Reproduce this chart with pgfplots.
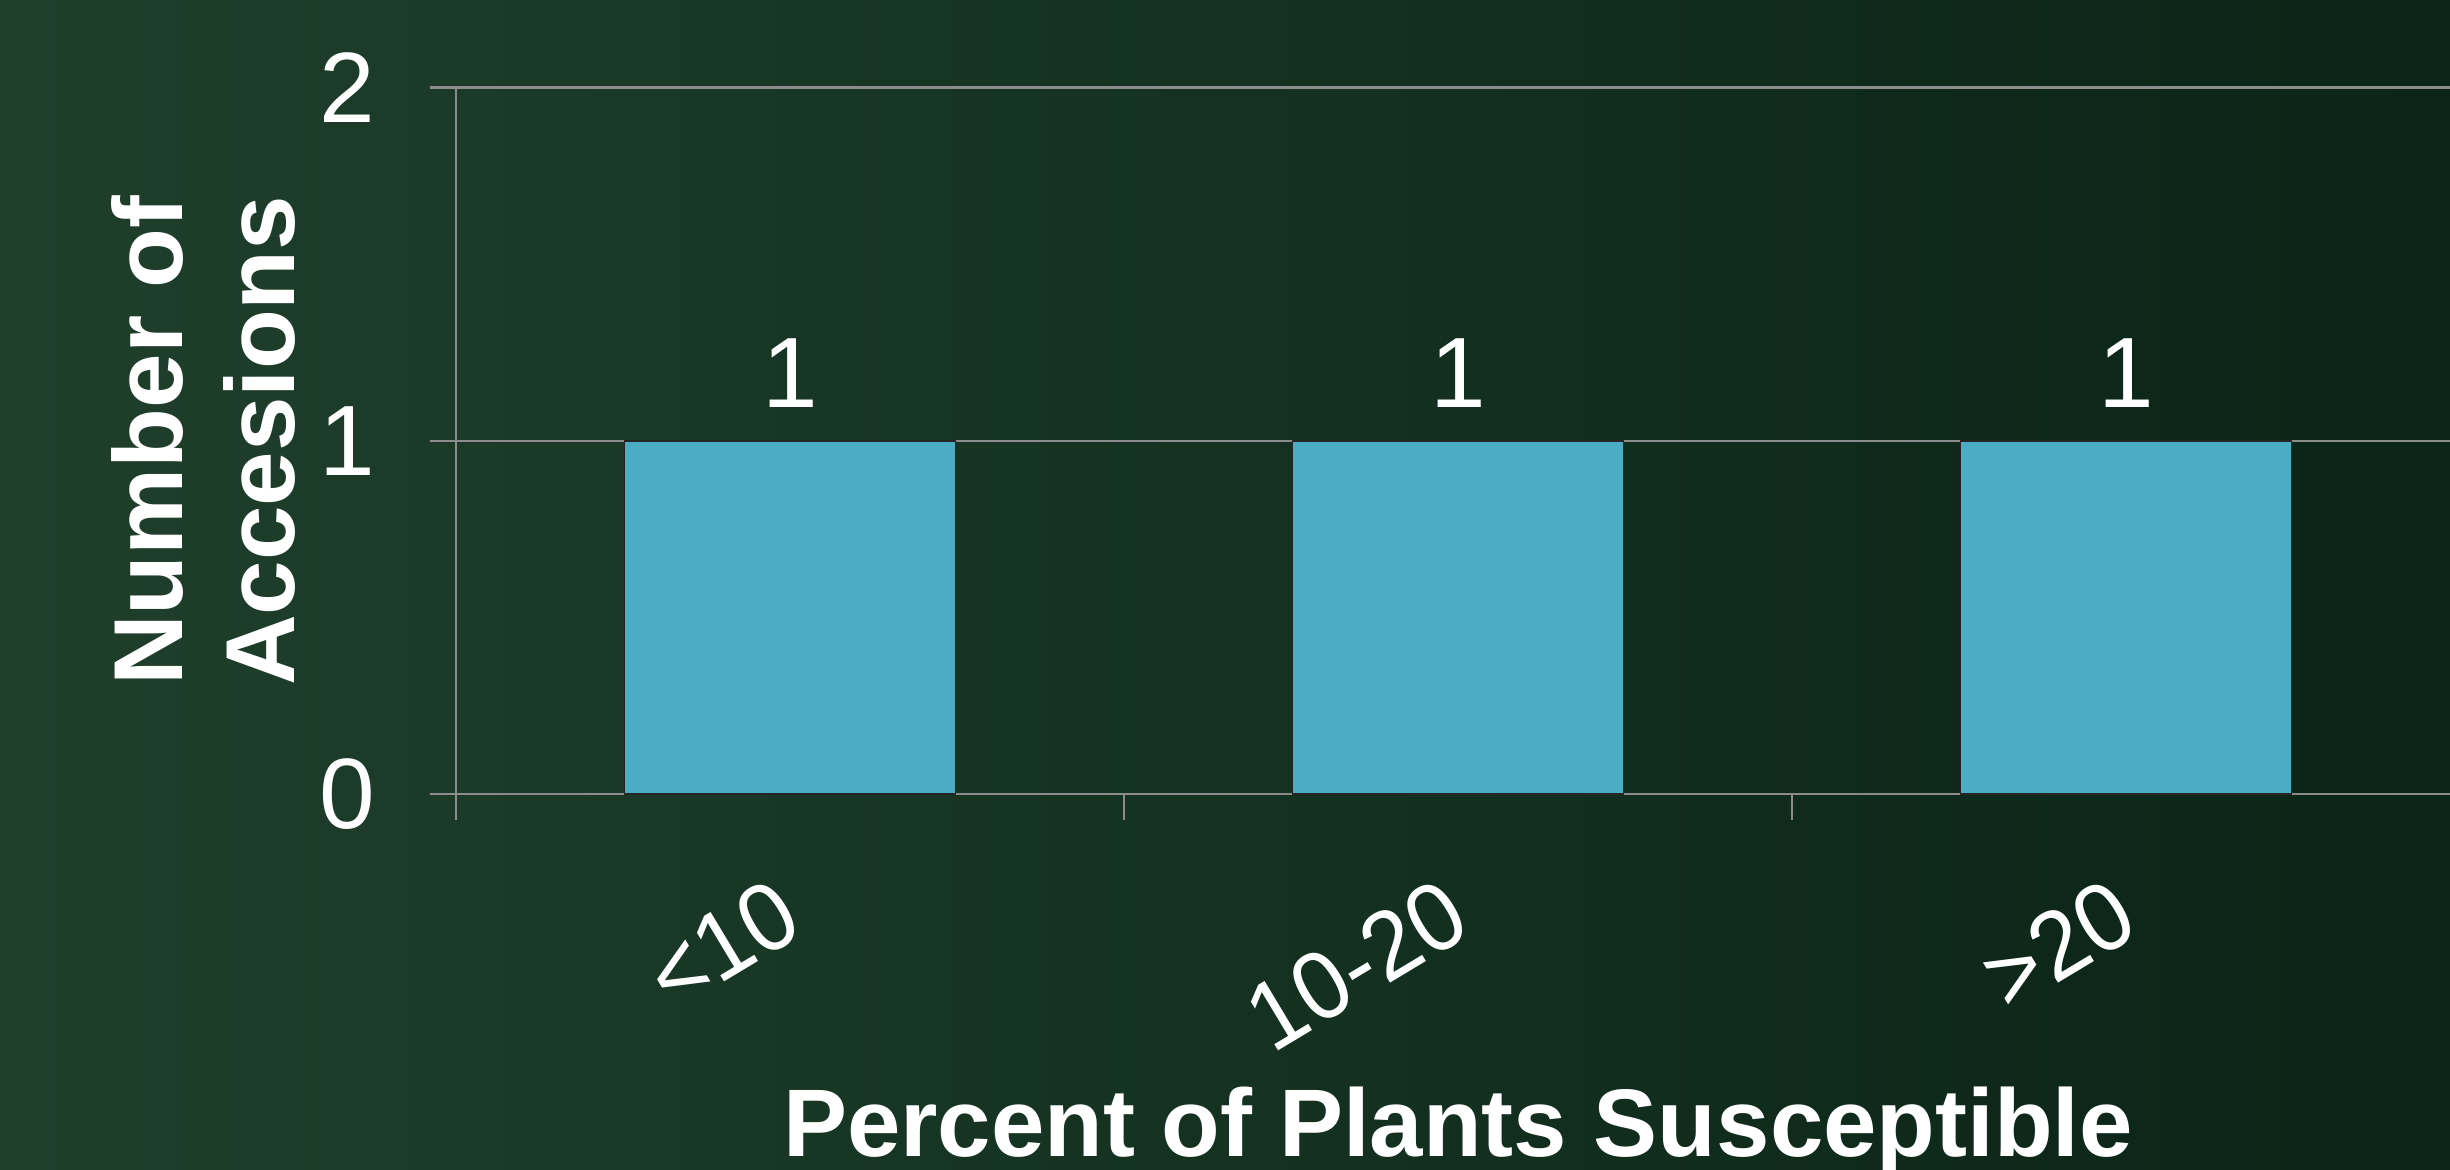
\documentclass[border=0pt]{standalone}
\usepackage{fontspec}
\setmainfont{Liberation Sans}
\usepackage{pgfplots}
\pgfplotsset{compat=1.18}

\definecolor{bgL}{RGB}{31,63,43}
\definecolor{bgR}{RGB}{10,36,23}
\definecolor{barblue}{RGB}{75,172,198}
\definecolor{gridgray}{RGB}{140,140,140}

\newcommand{\chartfont}{\fontsize{25}{29}\selectfont}
\newcommand{\catfont}{\fontsize{23}{27}\selectfont}
\newcommand{\titlefont}{\fontsize{24.5}{28}\selectfont\bfseries}
\newcommand{\xtitlefont}{\fontsize{24}{28}\selectfont\bfseries}

\begin{document}
\begin{tikzpicture}
% slide background
\shade[left color=bgL, right color=bgR] (0,0) rectangle (612.5pt,292.25pt);
\begin{axis}[
  at={(114pt,93.75pt)}, anchor=south west,
  scale only axis, width=501pt, height=176.625pt,
  xmin=-0.5, xmax=2.5, ymin=0, ymax=2,
  xtick={-0.5,0.5,1.5,2.5},
  x tick label as interval,
  xticklabels={<10,10-20,>20},
  ytick={0,1,2},
  ymajorgrids,
  grid style={gridgray, line width=0.6pt},
  axis line style={gridgray, line width=0.6pt},
  tick style={gridgray, line width=0.6pt},
  tick align=outside, tick pos=left,
  major tick length=6.5pt,
  /pgf/number format/assume math mode=true,
  ticklabel style={font=\chartfont, text=white},
  yticklabel style={anchor=east, inner sep=0pt, xshift=-13.5pt},
  xticklabel style={font=\catfont, anchor=east, inner sep=0pt, yshift=-21pt, xshift=0pt,
    rotate=31, yscale=1.05},
  every axis x label/.style={at={(rel axis cs:0.5,0)}, yshift=-90.5pt, anchor=base,
    font=\xtitlefont, text=white},
  every axis y label/.style={at={(rel axis cs:0,0.5)}, xshift=-63.25pt, rotate=90,
    anchor=center, align=center, font=\titlefont, text=white},
  xlabel={Percent of Plants Susceptible},
  ylabel={Number of\\Accesions},
  ybar, bar width=82.75pt,
  nodes near coords,
  every node near coord/.append style={font=\chartfont, text=white, inner sep=0pt, yshift=8.2pt},
]
\addplot[fill=barblue, draw=black!85, line width=0.4pt] coordinates {(0,1) (1,1) (2,1)};
\end{axis}
\pgfresetboundingbox
\useasboundingbox (0,0) rectangle (612.5pt,292.25pt);
\end{tikzpicture}
\end{document}
